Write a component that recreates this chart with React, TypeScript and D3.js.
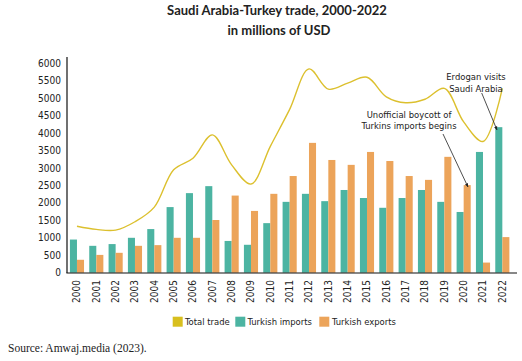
import React from "react";
import * as d3 from "d3";

const years = d3.range(2000, 2023).map(String);
const turkishImports = [950, 770, 820, 1000, 1250, 1880, 2280, 2480, 910, 800, 1420, 2030, 2260, 2050, 2370, 2140, 1860, 2140, 2370, 2030, 1740, 3460, 4170];
const turkishExports = [370, 510, 570, 770, 790, 1000, 1000, 1510, 2210, 1770, 2260, 2770, 3720, 3230, 3090, 3460, 3200, 2770, 2660, 3320, 2510, 290, 1020];
const totalTrade = [1330, 1240, 1220, 1460, 1880, 2950, 3280, 3950, 3090, 2540, 3620, 4680, 5840, 5260, 5430, 5600, 5040, 4870, 4970, 5280, 4320, 3760, 5280];
const yTicks = d3.range(0, 6001, 500);

const W = 522;
const H = 361;
const TEAL = "#4cb4a2";
const ORANGE = "#eca45a";
const GOLD = "#dcc02e";
const SANS = "'Liberation Sans Narrow', 'DejaVu Sans Condensed', 'Liberation Sans', sans-serif";

export default function App() {
  const x = d3.scaleBand().domain(years).range([67.3, 512]).paddingInner(0.27).paddingOuter(0.135);
  const y = d3.scaleLinear().domain([0, 6000]).range([272.7, 63.3]);
  const bw = x.bandwidth() / 2;
  const cx = (yr: string) => (x(yr) as number) + x.bandwidth() / 2;

  const line = d3
    .line<number>()
    .x((_, i) => cx(years[i]))
    .y((d) => y(d))
    .curve(d3.curveCatmullRom.alpha(0.5));

  return (
    <svg width={W} height={H} style={{ position: "absolute", left: 0, top: 0, background: "#fff" }}>
      <defs>
        <marker id="arr" viewBox="0 0 10 10" refX="9" refY="5" markerWidth="5" markerHeight="5" orient="auto">
          <path d="M0,1 L10,5 L0,9 z" fill="#222" />
        </marker>
      </defs>
      <text x={277} y={15} textAnchor="middle" fontFamily="Lato, sans-serif" fontWeight="bold" fontSize={13} fill="#222">
        Saudi Arabia-Turkey trade, 2000-2022
      </text>
      <text x={279} y={35} textAnchor="middle" fontFamily="Lato, sans-serif" fontWeight="bold" fontSize={13} fill="#222">
        in millions of USD
      </text>

      {yTicks.map((t) => (
        <text key={t} x={61} y={y(t)} dy="0.35em" textAnchor="end" fontFamily={SANS} fontSize={10} fill="#222">
          {t}
        </text>
      ))}

      {years.map((yr, i) => (
        <g key={yr}>
          <rect x={x(yr)} y={y(turkishImports[i])} width={bw} height={y(0) - y(turkishImports[i])} fill={TEAL} />
          <rect x={(x(yr) as number) + bw} y={y(turkishExports[i])} width={bw} height={y(0) - y(turkishExports[i])} fill={ORANGE} />
          <text
            transform={`translate(${cx(yr) + 3.5},280) rotate(-90)`}
            textAnchor="end"
            fontFamily={SANS}
            fontSize={10}
            fill="#222"
          >
            {yr}
          </text>
        </g>
      ))}

      <path d={line(totalTrade) || ""} fill="none" stroke={GOLD} strokeWidth={1.4} />

      <line x1={67} x2={67} y1={57} y2={273} stroke="#111" strokeWidth={1.2} />
      <line x1={66.4} x2={517} y1={273} y2={273} stroke="#111" strokeWidth={1.2} />

      <g fontFamily={SANS} fontSize={9.4} fill="#222" textAnchor="middle">
        <text x={476} y={80}>Erdogan visits</text>
        <text x={476} y={91.5}>Saudi Arabia</text>
        <text x={409} y={118}>Unofficial boycott of</text>
        <text x={409} y={128.5}>Turkins imports begins</text>
      </g>
      <line x1={481.7} y1={93} x2={497} y2={130} stroke="#222" strokeWidth={0.8} markerEnd="url(#arr)" />
      <line x1={443} y1={134} x2={468} y2={187} stroke="#222" strokeWidth={0.8} markerEnd="url(#arr)" />

      <g fontFamily={SANS} fontSize={9.4} fill="#222">
        <rect x={172.7} y={316.7} width={10} height={10} fill="#d8bf1e" />
        <text x={185} y={325}>Total trade</text>
        <rect x={235.3} y={316.7} width={10} height={10} fill={TEAL} />
        <text x={247.5} y={325}>Turkish imports</text>
        <rect x={319.3} y={316.7} width={10} height={10} fill={ORANGE} />
        <text x={332} y={325}>Turkish exports</text>
      </g>

      <text x={8} y={352} fontFamily="'Liberation Serif', serif" fontSize={11.5} fill="#222">
        Source: Amwaj.media (2023).
      </text>
    </svg>
  );
}
